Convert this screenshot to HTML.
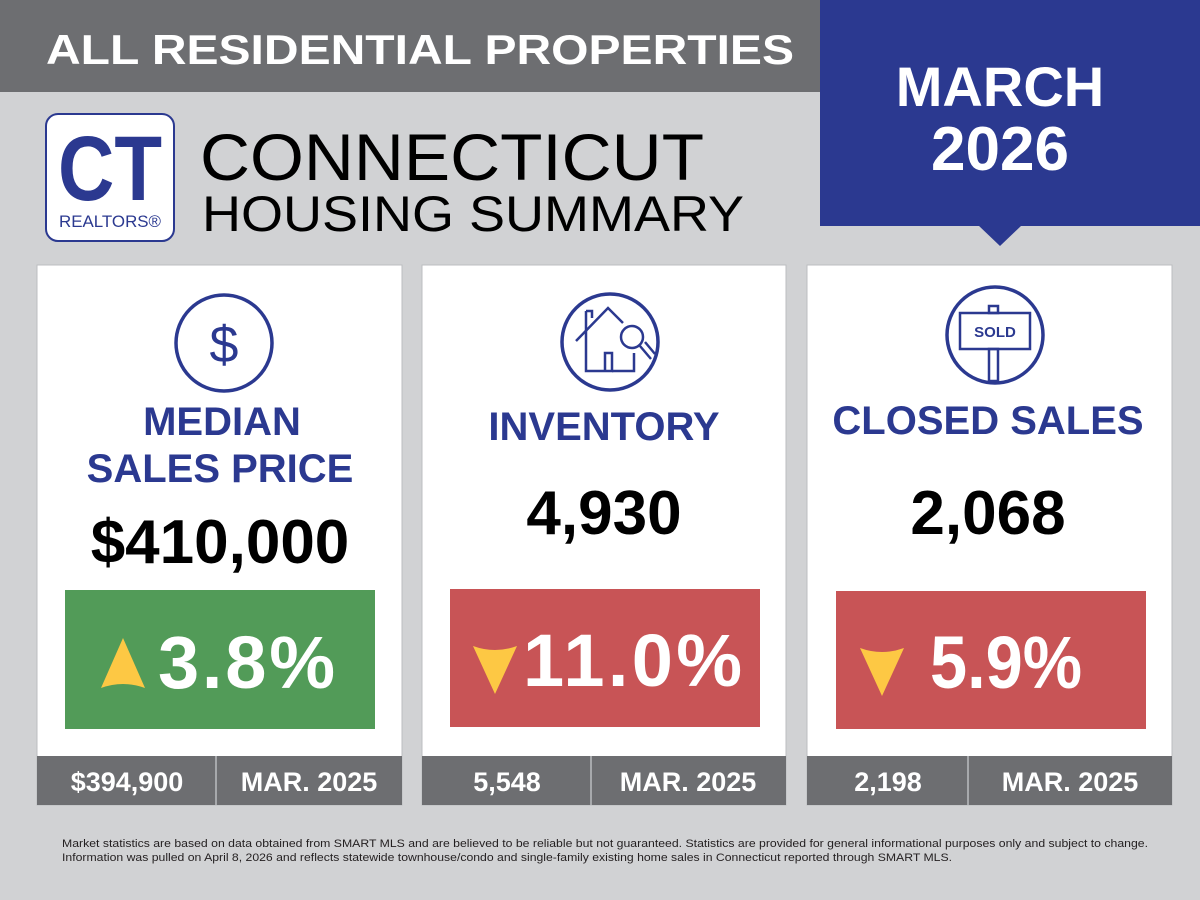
<!DOCTYPE html>
<html><head><meta charset="utf-8"><style>
html,body{margin:0;padding:0;background:#d1d2d4}
svg{display:block}
text{font-family:"Liberation Sans",sans-serif}
</style></head><body>
<svg width="1200" height="900" viewBox="0 0 1200 900" xmlns="http://www.w3.org/2000/svg">
<rect width="1200" height="900" fill="#d1d2d4"/>
<rect x="0" y="0" width="820" height="92" fill="#6d6e71"/>
<text x="420" y="64" text-anchor="middle" fill="#fff" font-size="42" font-weight="bold" textLength="748" lengthAdjust="spacingAndGlyphs">ALL RESIDENTIAL PROPERTIES</text>
<rect x="820" y="0" width="380" height="226" fill="#2b3990"/>
<polygon points="978,225 1022,225 1000,246" fill="#2b3990"/>
<text x="1000" y="106" text-anchor="middle" fill="#fff" font-size="56" font-weight="bold">MARCH</text>
<text x="1000" y="170" text-anchor="middle" fill="#fff" font-size="62" font-weight="bold">2026</text>
<!-- logo -->
<rect x="46" y="114" width="128" height="127" rx="12" fill="#fff" stroke="#2b3990" stroke-width="2"/>
<text x="110" y="200" text-anchor="middle" fill="#2b3990" font-size="92" font-weight="bold" textLength="104" lengthAdjust="spacingAndGlyphs">CT</text>
<text x="110" y="227" text-anchor="middle" fill="#2b3990" font-size="17" textLength="102" lengthAdjust="spacingAndGlyphs">REALTORS®</text>
<text x="200" y="180" fill="#000" font-size="66" textLength="504" lengthAdjust="spacingAndGlyphs">CONNECTICUT</text>
<text x="202" y="231" fill="#000" font-size="50" textLength="542" lengthAdjust="spacingAndGlyphs">HOUSING SUMMARY</text>
<!-- cards -->
<g stroke="#bcbec0" stroke-width="1">
<rect x="37" y="265" width="365" height="540" fill="#fff"/>
<rect x="422" y="265" width="364" height="540" fill="#fff"/>
<rect x="807" y="265" width="365" height="540" fill="#fff"/>
</g>
<rect x="37" y="756" width="365" height="49" fill="#6d6e71"/>
<rect x="422" y="756" width="364" height="49" fill="#6d6e71"/>
<rect x="807" y="756" width="365" height="49" fill="#6d6e71"/>
<g stroke="#a7a9ac" stroke-width="2"><line x1="216" y1="756" x2="216" y2="805"/><line x1="591" y1="756" x2="591" y2="805"/><line x1="968" y1="756" x2="968" y2="805"/></g>
<g fill="#fff" font-size="27" font-weight="bold" text-anchor="middle">
<text x="127" y="791">$394,900</text><text x="309" y="791">MAR. 2025</text>
<text x="507" y="791">5,548</text><text x="688" y="791">MAR. 2025</text>
<text x="888" y="791">2,198</text><text x="1070" y="791">MAR. 2025</text>
</g>
<!-- icons -->
<g fill="none" stroke="#2b3990" stroke-width="3.5">
<circle cx="224" cy="343" r="48"/>
<circle cx="610" cy="342" r="48"/>
<circle cx="995" cy="335" r="48"/>
</g>
<text x="224" y="362" text-anchor="middle" fill="#2b3990" font-size="52">$</text>
<g fill="none" stroke="#2b3990" stroke-width="2.5">
<polyline points="576,341 608,308 623,323"/>
<polyline points="586,311 592,311 592,318"/>
<polyline points="586,311 586,371 612,371 612,353 605,353 605,371"/>
<polyline points="612,371 634,371 634,353"/>
<circle cx="632" cy="337" r="11"/>
<line x1="640" y1="346" x2="651" y2="359"/><line x1="645" y1="342" x2="655" y2="354"/>
<rect x="960" y="313" width="70" height="36"/>
<rect x="989" y="306" width="9" height="7"/>
<rect x="989" y="349" width="9" height="32"/>
</g>
<text x="995" y="337" text-anchor="middle" fill="#2b3990" font-size="15" font-weight="bold">SOLD</text>
<!-- titles -->
<g fill="#2b3990" font-size="40" font-weight="bold" text-anchor="middle">
<text x="222" y="435">MEDIAN</text>
<text x="220" y="482">SALES PRICE</text>
<text x="604" y="440">INVENTORY</text>
<text x="988" y="434">CLOSED SALES</text>
</g>
<g fill="#000" font-size="62" font-weight="bold" text-anchor="middle">
<text x="220" y="563">$410,000</text>
<text x="604" y="534">4,930</text>
<text x="988" y="534">2,068</text>
</g>
<!-- change boxes -->
<rect x="65" y="590" width="310" height="139" fill="#529b58"/>
<rect x="450" y="589" width="310" height="138" fill="#c85456"/>
<rect x="836" y="591" width="310" height="138" fill="#c85456"/>
<path d="M101,688 L123,638 L145,688 Q123,680 101,688Z" fill="#fdc844"/>
<path d="M473,646 Q495,654 517,646 L495,694Z" fill="#fdc844"/>
<path d="M860,648 Q882,656 904,648 L882,696Z" fill="#fdc844"/>
<g fill="#fff" font-size="74" font-weight="bold">
<text x="158" y="688" textLength="177" lengthAdjust="spacing">3.8%</text>
<text x="523" y="686" textLength="219" lengthAdjust="spacing">11.0%</text>
<text x="930" y="688" textLength="152" lengthAdjust="spacingAndGlyphs">5.9%</text>
</g>
<g fill="#231f20" font-size="11">
<text x="62" y="847" textLength="1086" lengthAdjust="spacingAndGlyphs">Market statistics are based on data obtained from SMART MLS and are believed to be reliable but not guaranteed. Statistics are provided for general informational purposes only and subject to change.</text>
<text x="62" y="861" textLength="890" lengthAdjust="spacingAndGlyphs">Information was pulled on April 8, 2026 and reflects statewide townhouse/condo and single-family existing home sales in Connecticut reported through SMART MLS.</text>
</g>
</svg>
</body></html>
